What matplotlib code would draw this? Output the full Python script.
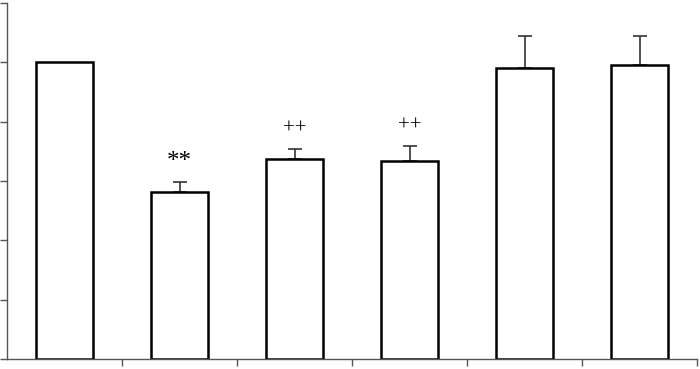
import numpy as np
import matplotlib
matplotlib.use('Agg')
import matplotlib.pyplot as plt

# values as % of control
groups = ['1', '2', '3', '4', '5', '6']
means = [100, 56.2, 67.3, 66.6, 98.1, 99.2]
errors = [0, 3.4, 3.6, 5.1, 10.7, 9.6]
marks = ['', '**', '++', '++', '', '']

fig = plt.figure(figsize=(7, 3.69), dpi=100)
ax = fig.add_axes([7/700, 10/369, 690/700, 356/369])

x = np.arange(len(groups))
ax.bar(x, means, width=0.5, color='white', edgecolor='black', linewidth=1.8, zorder=2)
has_err = np.array(errors) > 0
ax.errorbar(x[has_err], np.array(means)[has_err],
            yerr=[np.zeros(has_err.sum()), np.array(errors)[has_err]], fmt='none',
            ecolor='#333333', elinewidth=1.2, capsize=5, capthick=1.2, zorder=1)

for xi, m, e, s in zip(x, means, errors, marks):
    if s == '**':
        ax.text(xi, m + e + 3, s, ha='center', va='bottom', fontsize=18,
                family='Liberation Serif')
    elif s:
        ax.text(xi, m + e + 3.5, s, ha='center', va='bottom', fontsize=15,
                family='Liberation Serif')

ax.set_xlim(-0.5, 5.5)
ax.set_ylim(0, 120)
ax.set_xticks(np.arange(0.5, 6, 1))
ax.set_yticks(np.arange(0, 121, 20))
ax.set_xticklabels([])
ax.set_yticklabels([])
ax.tick_params(axis='both', direction='out', length=5, width=1, color='#555555')
for side in ['top', 'right']:
    ax.spines[side].set_visible(False)
for side in ['left', 'bottom']:
    ax.spines[side].set_color('#555555')
    ax.spines[side].set_linewidth(1)

fig.savefig('out.png', dpi=100)
